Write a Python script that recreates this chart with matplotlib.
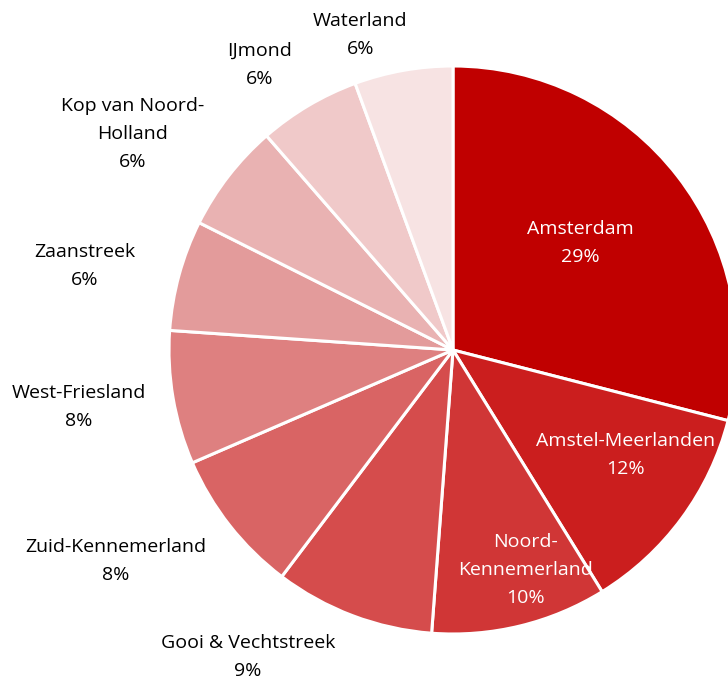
import matplotlib
matplotlib.use("Agg")
import matplotlib.pyplot as plt

regions = [
    "Amsterdam", "Amstel-Meerlanden", "Noord-\nKennemerland", "Gooi & Vechtstreek",
    "Zuid-Kennemerland", "West-Friesland", "Zaanstreek", "Kop van Noord-\nHolland",
    "IJmond", "Waterland",
]
shares = [29.0, 12.2, 10.0, 9.1, 8.2, 7.6, 6.3, 6.2, 5.8, 5.6]
pct_labels = ["29%", "12%", "10%", "9%", "8%", "8%", "6%", "6%", "6%", "6%"]
colors = [
    "#C00000", "#CB1E1E", "#D03636", "#D54C4C", "#D96464",
    "#DE8080", "#E39B9B", "#E9B2B2", "#F0C9C9", "#F7E3E3",
]

# label anchor points in pie-radius units (centre = 0, 0)
label_pos = [
    (0.447, 0.377), (0.606, -0.370), (0.254, -0.775), (-0.722, -1.082),
    (-1.187, -0.743), (-1.317, -0.201), (-1.296, 0.296), (-1.127, 0.761),
    (-0.680, 1.004), (-0.327, 1.109),
]
inside = [True, True, True] + [False] * 7

fig = plt.figure(figsize=(7.28, 6.82), dpi=100)
ax = fig.add_axes([0, 0, 1, 1])
ax.pie(
    shares,
    colors=colors,
    startangle=90,
    counterclock=False,
    radius=1.0,
    wedgeprops={"edgecolor": "white", "linewidth": 2.2},
)
ax.set_xlim(-453 / 284, (728 - 453) / 284)
ax.set_ylim(-(682 - 350) / 284, 350 / 284)
ax.set_aspect("auto")
ax.axis("off")

for name, pct, (x, y), ins in zip(regions, pct_labels, label_pos, inside):
    ax.text(
        x, y, f"{name}\n{pct}",
        ha="center", va="center",
        color="white" if ins else "black",
        fontsize=14, family="Open Sans", linespacing=1.7,
    )

fig.savefig("out.png", dpi=100)
